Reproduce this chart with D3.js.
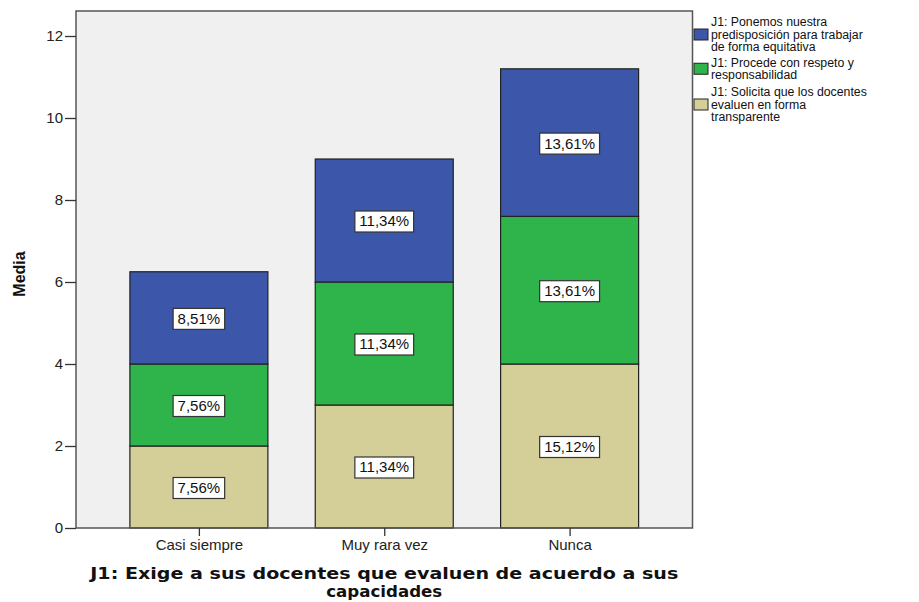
<!DOCTYPE html>
<html>
<head>
<meta charset="utf-8">
<script src="https://cdn.jsdelivr.net/npm/d3@7"></script>
<style>
  body { margin: 0; background: #fff; }
  svg { font-family: "Liberation Sans", Arial, sans-serif; }
</style>
</head>
<body>
<div id="chart"></div>
<script>
var categories = ["Casi siempre", "Muy rara vez", "Nunca"];

// series, bottom to top of each stack
var seriesKeys = ["solicita", "procede", "ponemos"];
var solicita = [2, 3, 4];
var procede = [2, 3, 3.6];
var ponemos = [2.25, 3, 3.6];

var solicitaPct = ["7,56%", "11,34%", "15,12%"];
var procedePct = ["7,56%", "11,34%", "13,61%"];
var ponemosPct = ["8,51%", "11,34%", "13,61%"];

var yTicks = [0, 2, 4, 6, 8, 10, 12];

var legendLines = {
    ponemos: ["J1: Ponemos nuestra", "predisposición para trabajar", "de forma equitativa"],
    procede: ["J1: Procede con respeto y", "responsabilidad"],
    solicita: ["J1: Solicita que los docentes", "evaluen en forma", "transparente"]
};
var colors = { solicita: "#d4cf98", procede: "#2fb44b", ponemos: "#3c56a9" };

var margin = { top: 11, right: 226.5, bottom: 74, left: 76 };
var width = 919 - margin.left - margin.right;
var height = 602 - margin.top - margin.bottom;

var svg = d3.select("#chart")
    .append("svg")
    .attr("width", 919)
    .attr("height", 602);

var g = svg.append("g")
    .attr("transform", "translate(" + margin.left + "," + margin.top + ")");

// plot background
g.append("rect")
    .attr("width", width)
    .attr("height", height)
    .attr("fill", "#f0f0f0");

var x = d3.scalePoint()
    .domain(categories)
    .range([0, width])
    .padding(0.663);
var barWidth = 138;

var y = d3.scaleLinear()
    .domain([0, 12.61])
    .range([height, 0]);

var table = categories.map((c, i) => ({
    category: c,
    solicita: solicita[i],
    procede: procede[i],
    ponemos: ponemos[i]
}));
var pcts = { solicita: solicitaPct, procede: procedePct, ponemos: ponemosPct };

var stacked = d3.stack().keys(seriesKeys)(table);

var layers = g.selectAll(".layer")
    .data(stacked)
    .enter()
    .append("g")
    .attr("class", "layer")
    .attr("fill", d => colors[d.key]);

layers.selectAll("rect")
    .data(d => d)
    .enter()
    .append("rect")
    .attr("x", d => x(d.data.category) - barWidth / 2)
    .attr("y", d => y(d[1]))
    .attr("width", barWidth)
    .attr("height", d => y(d[0]) - y(d[1]))
    .attr("stroke", "#222")
    .attr("stroke-width", 1.2);

// value labels in white boxes
stacked.forEach(layer => {
    layer.forEach((d, i) => {
        var cx = x(d.data.category);
        var cy = (y(d[0]) + y(d[1])) / 2;
        var lg = g.append("g");
        var box = lg.append("rect")
            .attr("fill", "#fff")
            .attr("stroke", "#333")
            .attr("stroke-width", 1.2);
        var t = lg.append("text")
            .attr("x", cx)
            .attr("y", cy + 2)
            .attr("text-anchor", "middle")
            .attr("dominant-baseline", "middle")
            .style("font-size", "15px")
            .attr("fill", "#111")
            .text(pcts[layer.key][i]);
        var w = t.node().getComputedTextLength() + 9;
        box.attr("x", cx - w / 2)
            .attr("y", cy - 9.5)
            .attr("width", w)
            .attr("height", 21);
    });
});

// frame
g.append("rect")
    .attr("width", width)
    .attr("height", height)
    .attr("fill", "none")
    .attr("stroke", "#555")
    .attr("stroke-width", 1.5);

var yAxis = g.append("g")
    .call(d3.axisLeft(y).tickValues(yTicks).tickSize(11).tickPadding(2));
yAxis.select(".domain").remove();
yAxis.selectAll("line").attr("stroke", "#333").attr("stroke-width", 1.3);
yAxis.selectAll("text").style("font-size", "15px").attr("fill", "#222");

var xAxis = g.append("g")
    .attr("transform", "translate(0," + height + ")")
    .call(d3.axisBottom(x).tickSize(8).tickPadding(3.5));
xAxis.select(".domain").remove();
xAxis.selectAll("line").attr("stroke", "#333").attr("stroke-width", 1.3);
xAxis.selectAll("text").style("font-size", "15px").attr("fill", "#222");

// axis titles
svg.append("text")
    .attr("transform", "translate(25," + 274 + ") rotate(-90)")
    .attr("text-anchor", "middle")
    .style("font-size", "16px")
    .style("font-weight", "bold")
    .attr("fill", "#111")
    .text("Media");

var xTitle = svg.append("text")
    .attr("text-anchor", "middle")
    .style("font-family", "'DejaVu Sans', Verdana, sans-serif")
    .style("font-size", "16px")
    .style("font-weight", "bold")
    .attr("fill", "#111");
xTitle.append("tspan")
    .attr("x", margin.left + width / 2)
    .attr("y", 579)
    .attr("textLength", 588)
    .attr("lengthAdjust", "spacingAndGlyphs")
    .text("J1: Exige a sus docentes que evaluen de acuerdo a sus");
xTitle.append("tspan")
    .attr("x", margin.left + width / 2)
    .attr("y", 597)
    .attr("textLength", 116)
    .attr("lengthAdjust", "spacingAndGlyphs")
    .text("capacidades");

// legend
var legendBlocks = [
    { key: "ponemos", baseline: 26 },
    { key: "procede", baseline: 66.5 },
    { key: "solicita", baseline: 96 }
];
var lineH = 12.5;
var legend = svg.append("g");
legendBlocks.forEach(b => {
    var lines = legendLines[b.key];
    var top = b.baseline - 9;
    var bottom = b.baseline + (lines.length - 1) * lineH + 3;
    var mid = (top + bottom) / 2 - 1;
    legend.append("rect")
        .attr("x", 694)
        .attr("y", mid - 5.5)
        .attr("width", 14)
        .attr("height", 11)
        .attr("fill", colors[b.key])
        .attr("stroke", "#222")
        .attr("stroke-width", 1);
    var t = legend.append("text")
        .style("font-size", "12.3px")
        .attr("fill", "#111");
    lines.forEach((l, i) => {
        t.append("tspan")
            .attr("x", 711)
            .attr("y", b.baseline + i * lineH)
            .text(l);
    });
});
</script>
</body>
</html>
